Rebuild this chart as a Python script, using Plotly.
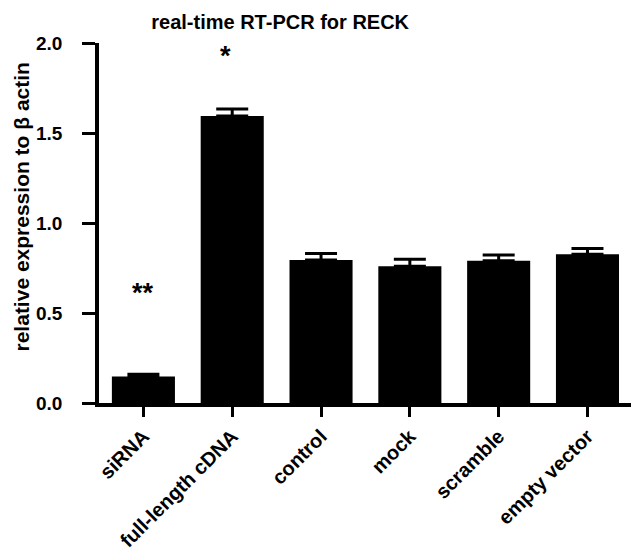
import plotly.graph_objects as go

categories = ["siRNA", "full-length cDNA", "control", "mock", "scramble", "empty vector"]
values = [0.147, 1.594, 0.795, 0.760, 0.790, 0.826]
errors = [0.013, 0.040, 0.035, 0.038, 0.032, 0.032]
significance = ["**", "*", "", "", "", ""]
sig_y = [0.61, 1.93, None, None, None, None]

FONT = "Liberation Sans, Arial, sans-serif"

fig = go.Figure()
fig.add_trace(go.Bar(
    x=categories, y=values,
    marker=dict(color="black", line=dict(color="black", width=0)),
    width=0.71,
    error_y=dict(type="data", symmetric=False, array=errors,
                 arrayminus=[0] * len(errors),
                 color="black", thickness=3, width=16),
))

for c, s, yy in zip(categories, significance, sig_y):
    if s:
        fig.add_annotation(x=c, y=yy, text=s, showarrow=False,
                           xshift=-7 if s == "*" else 0,
                           font=dict(family=FONT, size=27, color="black", weight=700))

# y-axis title as annotation for precise placement
fig.add_annotation(xref="paper", yref="paper", x=-0.146, y=0.544,
                   xanchor="center", yanchor="middle", textangle=-90,
                   text="relative expression to β actin", showarrow=False,
                   font=dict(family=FONT, size=21, color="black", weight=700))

fig.update_layout(
    width=631, height=551,
    margin=dict(l=99, r=0, t=43, b=148),
    plot_bgcolor="white", paper_bgcolor="white",
    showlegend=False,
    title=dict(text="real-time RT-PCR for RECK", x=0.444, xanchor="center",
               y=0.96, yanchor="middle",
               font=dict(family=FONT, size=20, color="black", weight=700)),
    bargap=0.29,
)
fig.update_xaxes(
    range=[-0.5, 5.49], showline=True, linecolor="black", linewidth=3.5,
    ticks="outside", ticklen=10, tickwidth=3, tickcolor="black",
    tickangle=-45, showgrid=False, zeroline=False,
    tickfont=dict(family=FONT, size=20, color="black", weight=700),
)
fig.update_yaxes(
    range=[0, 2.0], dtick=0.5, tickformat=".1f", showline=True,
    linecolor="black", linewidth=3.5,
    ticks="outside", ticklen=13, tickwidth=3, tickcolor="black",
    showgrid=False, zeroline=False, ticklabelstandoff=16,
    tickfont=dict(family=FONT, size=19, color="black", weight=700),
)

fig.write_html("out.html")
